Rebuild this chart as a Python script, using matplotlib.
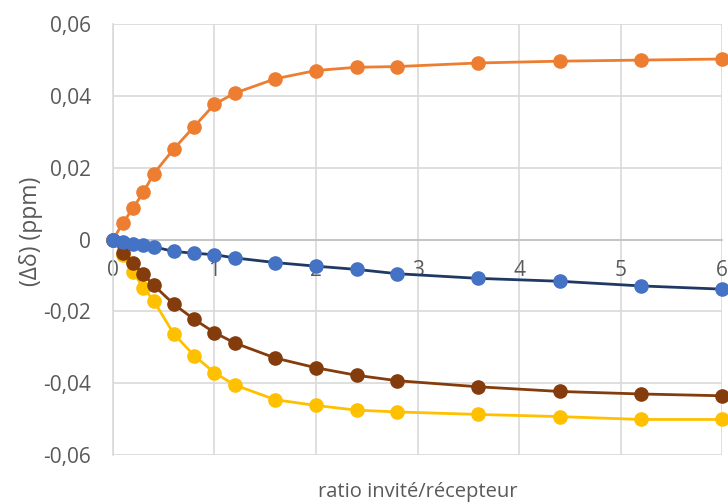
import numpy as np
import matplotlib.pyplot as plt
from matplotlib.ticker import FuncFormatter

# ratio invite/recepteur
ratio = [0, 0.1, 0.2, 0.3, 0.4, 0.6, 0.8, 1.0, 1.2, 1.6, 2.0, 2.4, 2.8, 3.6, 4.4, 5.2, 6.0]

# delta delta (ppm) par signal
orange = [0, 0.0047, 0.0089, 0.0132, 0.0183, 0.0253, 0.0315, 0.0377, 0.0408, 0.0448,
          0.0471, 0.0480, 0.0482, 0.0492, 0.0497, 0.0500, 0.0503]
bleu = [0, -0.0006, -0.0011, -0.0016, -0.0020, -0.0033, -0.0038, -0.0042, -0.0051, -0.0064,
        -0.0074, -0.0083, -0.0095, -0.0108, -0.0116, -0.0129, -0.0138]
marron = [0, -0.0036, -0.0066, -0.0097, -0.0127, -0.0180, -0.0222, -0.0259, -0.0288, -0.0330,
          -0.0357, -0.0378, -0.0393, -0.0410, -0.0423, -0.0430, -0.0435]
jaune = [0, -0.0044, -0.0091, -0.0134, -0.0170, -0.0263, -0.0323, -0.0371, -0.0405, -0.0446,
         -0.0462, -0.0475, -0.0480, -0.0487, -0.0493, -0.0501, -0.0501]

plt.rcParams['font.family'] = ['Open Sans', 'DejaVu Sans']
gris = '#595959'

fig = plt.figure(figsize=(7.28, 5.04), dpi=100)
ax = fig.add_axes([0.1552, 0.0972, 0.8366, 0.8548])

ms = 9.5
lw = 2
ax.plot(ratio, jaune, color='#FFC000', lw=lw, marker='o', ms=ms, clip_on=False, zorder=3)
ax.plot(ratio, marron, color='#843C0C', lw=lw, marker='o', ms=ms, clip_on=False, zorder=4)
ax.plot(ratio, orange, color='#ED7D31', lw=lw, marker='o', ms=ms, clip_on=False, zorder=5)
ax.plot(ratio, bleu, color='#203864', lw=lw, marker='o', ms=ms, mfc='#4472C4', mec='#4472C4',
        clip_on=False, zorder=6)

ax.set_xlim(0, 6)
ax.set_ylim(-0.06, 0.06)
ax.set_xticks(range(7))
ax.set_yticks(np.arange(-0.06, 0.061, 0.02))
ax.yaxis.set_major_formatter(FuncFormatter(lambda v, p: '0' if abs(v) < 1e-9 else ('%.2f' % v).replace('.', ',')))

ax.grid(True, color='#D9D9D9', lw=1.2, zorder=0)
ax.set_axisbelow(True)
for s in ['top', 'right']:
    ax.spines[s].set_visible(False)
ax.spines['left'].set_color('#D9D9D9')
ax.spines['left'].set_linewidth(1.2)
ax.spines['bottom'].set_position(('data', 0))
ax.spines['bottom'].set_color('#BFBFBF')
ax.spines['bottom'].set_linewidth(1.2)

ax.tick_params(axis='both', length=0, labelsize=15, labelcolor=gris)
ax.tick_params(axis='x', pad=15)
ax.tick_params(axis='y', pad=16)

ax.set_xlabel('ratio invité/récepteur', fontsize=14.5, color=gris, va='center')
ax.xaxis.set_label_coords(0.5, -0.085)
ax.set_ylabel('(Δδ) (ppm)', fontsize=16.5, color=gris)
ax.yaxis.set_label_coords(-0.115, 0.52)

fig.savefig('out.png', dpi=100)
